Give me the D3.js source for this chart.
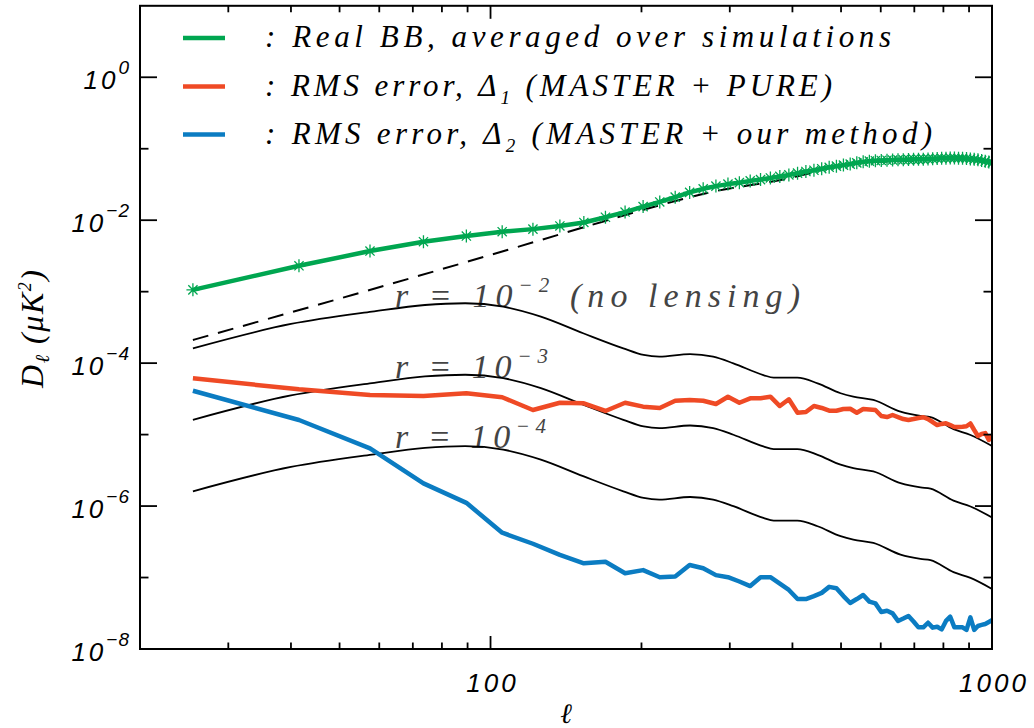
<!DOCTYPE html>
<html>
<head>
<meta charset="utf-8">
<script src="https://cdn.jsdelivr.net/npm/d3@7"></script>
<style>
  body { margin: 0; background: #fff; }
  svg { display: block; }
  .tick-label { font-family: "Liberation Sans", sans-serif; font-style: italic; font-size: 26px; letter-spacing: 3px; fill: #000; }
  .serif { font-family: "Liberation Serif", serif; font-style: italic; }
</style>
</head>
<body>
<svg width="1034" height="728"></svg>
<script>
// multipole bin centres of the simulated spectra
var ell = [25.5, 41.5, 57.5, 73.5, 89.5, 105.5, 121.5, 137.5, 153.5, 169.5,
           185.5, 201.5, 217.5, 233.5, 249.5, 265.5, 281.5, 297.5, 313.5, 329.5,
           345.5, 361.5, 377.5, 393.5, 409.5, 425.5, 441.5, 457.5, 473.5, 489.5,
           505.5, 521.5, 537.5, 553.5, 569.5, 585.5, 601.5, 617.5, 633.5, 649.5,
           665.5, 681.5, 697.5, 713.5, 729.5, 745.5, 761.5, 777.5, 793.5, 809.5,
           825.5, 841.5, 857.5, 873.5, 889.5, 905.5, 921.5, 937.5, 953.5, 969.5,
           985.5, 1001.5];

var realBB = [1.06e-3, 2.3e-3, 3.7e-3, 5.0e-3, 6.0e-3, 6.9e-3, 7.5e-3, 8.3e-3, 9.3e-3, 1.1e-2,
              1.3e-2, 1.55e-2, 1.8e-2, 2.1e-2, 2.45e-2, 2.75e-2, 3.0e-2, 3.2e-2, 3.35e-2, 3.55e-2,
              3.7e-2, 3.9e-2, 4.1e-2, 4.3e-2, 4.55e-2, 4.8e-2, 5.0e-2, 5.25e-2, 5.5e-2, 5.7e-2,
              5.9e-2, 6.1e-2, 6.35e-2, 6.55e-2, 6.7e-2, 6.8e-2, 6.85e-2, 6.9e-2, 6.95e-2, 7.0e-2,
              7.0e-2, 7.05e-2, 7.1e-2, 7.1e-2, 7.15e-2, 7.2e-2, 7.25e-2, 7.3e-2, 7.35e-2, 7.35e-2,
              7.4e-2, 7.4e-2, 7.35e-2, 7.35e-2, 7.3e-2, 7.2e-2, 7.1e-2, 7.0e-2, 6.85e-2, 6.7e-2,
              6.5e-2, 6.35e-2];

var rmsPure = [6.14e-5, 4.3e-5, 3.58e-5, 3.47e-5, 3.79e-5, 3.33e-5, 2.21e-5, 2.79e-5, 2.74e-5, 2.14e-5,
               2.79e-5, 2.46e-5, 2.36e-5, 2.98e-5, 3.05e-5, 2.98e-5, 2.68e-5, 3.39e-5, 2.79e-5, 3.22e-5,
               3.22e-5, 3.39e-5, 2.51e-5, 3.12e-5, 2.02e-5, 2.07e-5, 2.51e-5, 2.36e-5, 2.16e-5, 2.16e-5,
               2.28e-5, 2.30e-5, 2.02e-5, 2.28e-5, 2.25e-5, 2.21e-5, 1.82e-5, 1.76e-5, 1.88e-5, 1.76e-5,
               1.65e-5, 1.60e-5, 1.65e-5, 1.71e-5, 1.75e-5, 1.65e-5, 1.50e-5, 1.36e-5, 1.41e-5, 1.44e-5,
               1.36e-5, 1.28e-5, 1.28e-5, 1.29e-5, 1.31e-5, 1.43e-5, 1.16e-5, 9.55e-6, 1.02e-5, 1.05e-5,
               8.4e-6, 9.9e-6];

var rmsOurs = [4.11e-5, 1.60e-5, 6.43e-6, 2.08e-6, 1.11e-6, 4.24e-7, 2.97e-7, 2.07e-7, 1.58e-7, 1.66e-7,
               1.15e-7, 1.27e-7, 1.01e-7, 1.03e-7, 1.50e-7, 1.35e-7, 1.08e-7, 1.01e-7, 8.8e-8, 7.6e-8,
               1.01e-7, 1.01e-7, 8.2e-8, 6.7e-8, 5.0e-8, 5.0e-8, 5.5e-8, 6.1e-8, 7.4e-8, 7.1e-8,
               5.5e-8, 4.4e-8, 5.0e-8, 5.7e-8, 4.6e-8, 4.35e-8, 3.29e-8, 3.43e-8, 3.15e-8, 2.47e-8,
               2.67e-8, 2.9e-8, 2.43e-8, 2.01e-8, 2.01e-8, 2.33e-8, 1.99e-8, 2.05e-8, 1.88e-8, 2.47e-8,
               2.83e-8, 2.01e-8, 2.01e-8, 2.01e-8, 1.85e-8, 2.77e-8, 1.85e-8, 2.1e-8, 2.17e-8, 2.24e-8,
               2.39e-8, 2.55e-8];

// theory spectra
var ellTheory = [25.5, 40, 58, 74, 89, 106, 126, 153, 184, 202, 217, 250, 278, 305,
                 350, 367, 409, 449, 499, 529, 580, 657, 720, 754, 838, 906, 1000];
var primR2 = [1.61e-4, 3.53e-4, 5.25e-4, 6.51e-4, 6.88e-4, 6.16e-4, 4.47e-4, 2.62e-4, 1.61e-4, 1.30e-4,
              1.23e-4, 1.34e-4, 1.23e-4, 9.95e-5, 6.82e-5, 6.25e-5, 6.25e-5, 5.22e-5, 3.79e-5, 3.39e-5,
              3.05e-5, 2.09e-5, 1.82e-5, 1.75e-5, 1.19e-5, 9.87e-6, 6.92e-6];
var primR3 = [1.61e-5, 3.53e-5, 5.25e-5, 6.51e-5, 6.88e-5, 6.16e-5, 4.47e-5, 2.62e-5, 1.61e-5, 1.30e-5,
              1.23e-5, 1.34e-5, 1.23e-5, 9.95e-6, 6.82e-6, 6.25e-6, 6.25e-6, 5.22e-6, 3.79e-6, 3.39e-6,
              3.05e-6, 2.09e-6, 1.82e-6, 1.75e-6, 1.19e-6, 9.87e-7, 6.92e-7];
var primR4 = [1.61e-6, 3.53e-6, 5.25e-6, 6.51e-6, 6.88e-6, 6.16e-6, 4.47e-6, 2.62e-6, 1.61e-6, 1.30e-6,
              1.23e-6, 1.34e-6, 1.23e-6, 9.95e-7, 6.82e-7, 6.25e-7, 6.25e-7, 5.22e-7, 3.79e-7, 3.39e-7,
              3.05e-7, 2.09e-7, 1.82e-7, 1.75e-7, 1.19e-7, 9.87e-8, 6.92e-8];

var ellLens = [25.5, 53, 108, 151, 218, 278, 379, 539, 697, 838, 1000];
var lensBB = [2.11e-4, 8.99e-4, 3.83e-3, 7.7e-3, 1.63e-2, 2.51e-2, 3.65e-2, 6.26e-2, 6.8e-2, 7.12e-2, 6.8e-2];

var yMajor = [1, 1e-2, 1e-4, 1e-6, 1e-8],
    yExp = ["0", "\u22122", "\u22124", "\u22126", "\u22128"],
    yMinor = [1e-1, 1e-3, 1e-5, 1e-7];
var xMajor = [100, 1000],
    xMinor = [30, 40, 50, 60, 70, 80, 90, 200, 300, 400, 500, 600, 700, 800, 900];

var svg = d3.select("svg"),
    width = +svg.attr("width"),
    height = +svg.attr("height");

var x0 = 140, x1 = 992, y0 = 5.8, y1 = 649;

var x = d3.scaleLog().domain([20, 1000]).range([x0, x1]),
    y = d3.scaleLog().domain([1e-8, 10]).range([y1, y0]);

svg.append("clipPath").attr("id", "plot")
  .append("rect")
    .attr("x", x0).attr("y", y0)
    .attr("width", x1 - x0).attr("height", y1 - y0);

var jagged = d3.line()
    .x(function(d) { return x(d[0]); })
    .y(function(d) { return y(d[1]); });

var smooth = d3.line()
    .curve(d3.curveMonotoneX)
    .x(function(d) { return x(d[0]); })
    .y(function(d) { return y(d[1]); });

function pairs(xs, ys) { return xs.map(function(v, i) { return [v, ys[i]]; }); }

// annotations for the primordial curves
function rLabel(yy, exp, extra, len) {
  var t = svg.append("text")
      .attr("class", "serif")
      .attr("x", 395).attr("y", yy)
      .attr("fill", "#444")
      .style("font-size", "34px")
      .attr("textLength", len)
      .attr("lengthAdjust", "spacing");
  t.append("tspan").text("r = 10");
  t.append("tspan").attr("dy", -15).style("font-size", "21px").text(exp);
  if (extra) t.append("tspan").attr("dy", 15).text(" (no lensing)");
}
rLabel(307, "\u22122", true, 405);
rLabel(378, "\u22123", false, 153);
rLabel(448, "\u22124", false, 151);

var plot = svg.append("g").attr("clip-path", "url(#plot)");

[primR2, primR3, primR4].forEach(function(s) {
  plot.append("path")
      .attr("d", smooth(pairs(ellTheory, s)))
      .attr("fill", "none")
      .attr("stroke", "#000")
      .attr("stroke-width", 1.8);
});

plot.append("path")
    .attr("d", smooth(pairs(ellLens, lensBB)))
    .attr("fill", "none")
    .attr("stroke", "#000")
    .attr("stroke-width", 2)
    .attr("stroke-dasharray", "16,10");

plot.append("path")
    .attr("d", jagged(pairs(ell, rmsPure)))
    .attr("fill", "none")
    .attr("stroke", "#ef4a25")
    .attr("stroke-width", 4.5)
    .attr("stroke-linejoin", "round");

plot.append("path")
    .attr("d", jagged(pairs(ell, rmsOurs)))
    .attr("fill", "none")
    .attr("stroke", "#0b7cc2")
    .attr("stroke-width", 4.5)
    .attr("stroke-linejoin", "round");

plot.append("path")
    .attr("d", jagged(pairs(ell, realBB)))
    .attr("fill", "none")
    .attr("stroke", "#00a650")
    .attr("stroke-width", 4.5)
    .attr("stroke-linejoin", "round");

plot.selectAll(".star")
  .data(pairs(ell, realBB))
  .enter().append("path")
    .attr("class", "star")
    .attr("transform", function(d) { return "translate(" + x(d[0]) + "," + y(d[1]) + ")"; })
    .attr("d", "M0,-6.5V6.5M-6.5,0H6.5M-4.6,-4.6L4.6,4.6M-4.6,4.6L4.6,-4.6")
    .attr("stroke", "#00a650")
    .attr("stroke-width", 1.3);

// frame and ticks
svg.append("rect")
    .attr("x", x0).attr("y", y0)
    .attr("width", x1 - x0).attr("height", y1 - y0)
    .attr("fill", "none")
    .attr("stroke", "#000")
    .attr("stroke-width", 2);

var ticks = svg.append("g").attr("stroke", "#000").attr("stroke-width", 1.8);

function yTicks(vals, len) {
  vals.forEach(function(v) {
    ticks.append("line").attr("x1", x0).attr("x2", x0 + len).attr("y1", y(v)).attr("y2", y(v));
    ticks.append("line").attr("x1", x1).attr("x2", x1 - len).attr("y1", y(v)).attr("y2", y(v));
  });
}
function xTicks(vals, len) {
  vals.forEach(function(v) {
    ticks.append("line").attr("x1", x(v)).attr("x2", x(v)).attr("y1", y1).attr("y2", y1 - len);
    ticks.append("line").attr("x1", x(v)).attr("x2", x(v)).attr("y1", y0).attr("y2", y0 + len);
  });
}
yTicks(yMajor, 17);
yTicks(yMinor, 8.5);
xTicks(xMajor, 13);
xTicks(xMinor, 6.5);

yMajor.forEach(function(v, i) {
  var t = svg.append("text")
      .attr("class", "tick-label")
      .attr("x", 130).attr("y", y(v) + 11.5)
      .attr("text-anchor", "end");
  t.append("tspan").text("10");
  t.append("tspan").attr("dy", -15).style("font-size", "19px").style("letter-spacing", "1px").text(yExp[i]);
});

xMajor.forEach(function(v) {
  svg.append("text")
      .attr("class", "tick-label")
      .attr("x", x(v) + 2).attr("y", 692)
      .attr("text-anchor", "middle")
      .text(v);
});

// axis titles
svg.append("text")
    .attr("class", "serif")
    .attr("x", 566).attr("y", 723)
    .attr("text-anchor", "middle")
    .style("font-size", "28px")
    .text("\u2113");

var yt = svg.append("text")
    .attr("class", "serif")
    .attr("transform", "translate(43,329) rotate(-90)")
    .attr("text-anchor", "middle")
    .style("font-size", "32px")
    .attr("textLength", 118)
    .attr("lengthAdjust", "spacing");
yt.append("tspan").text("D");
yt.append("tspan").attr("dy", 6).style("font-size", "20px").text("\u2113");
yt.append("tspan").attr("dy", -6).text(" (\u03bcK");
yt.append("tspan").attr("dy", -12).style("font-size", "18px").text("2");
yt.append("tspan").attr("dy", 12).text(")");

// legend
var legend = [
  {color: "#00a650", y: 38, base: 47, len: 626, pre: ": Real BB, averaged over simulations"},
  {color: "#ef4a25", y: 86.5, base: 95.5, len: 567, pre: ": RMS error, \u0394", sub: "1", post: " (MASTER + PURE)"},
  {color: "#0b7cc2", y: 134.5, base: 143.5, len: 667, pre: ": RMS error, \u0394", sub: "2", post: " (MASTER + our method)"}
];

legend.forEach(function(d) {
  svg.append("line")
      .attr("x1", 183).attr("x2", 225)
      .attr("y1", d.y).attr("y2", d.y)
      .attr("stroke", d.color)
      .attr("stroke-width", 4.5);
  var t = svg.append("text")
      .attr("class", "serif")
      .attr("x", 265).attr("y", d.base)
      .style("font-size", "31px")
      .attr("textLength", d.len)
      .attr("lengthAdjust", "spacing");
  t.append("tspan").text(d.pre);
  if (d.sub) {
    t.append("tspan").attr("dy", 8).style("font-size", "19px").text(d.sub);
    t.append("tspan").attr("dy", -8).text(d.post);
  }
});
</script>
</body>
</html>
